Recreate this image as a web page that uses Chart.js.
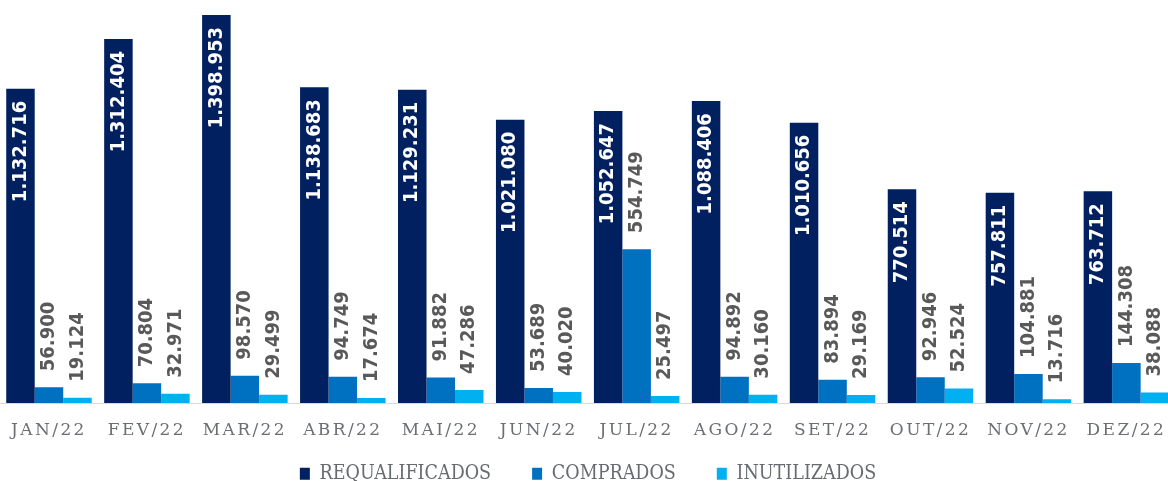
<!DOCTYPE html>
<html>
<head>
<meta charset="utf-8">
<script src="https://cdn.jsdelivr.net/npm/chart.js@4.4.1/dist/chart.umd.min.js"></script>
<style>
  html, body { margin: 0; padding: 0; background: #fff; overflow: hidden; }
  #wrap { width: 1176px; height: 481px; position: relative; }
</style>
</head>
<body>
<div id="wrap"><canvas id="chart"></canvas></div>
<script>
const MONTHS = ["JAN/22", "FEV/22", "MAR/22", "ABR/22", "MAI/22", "JUN/22", "JUL/22", "AGO/22", "SET/22", "OUT/22", "NOV/22", "DEZ/22"];
const REQUALIFICADOS = [1132716, 1312404, 1398953, 1138683, 1129231, 1021080, 1052647, 1088406, 1010656, 770514, 757811, 763712];
const COMPRADOS = [56900, 70804, 98570, 94749, 91882, 53689, 554749, 94892, 83894, 92946, 104881, 144308];
const INUTILIZADOS = [19124, 32971, 29499, 17674, 47286, 40020, 25497, 30160, 29169, 52524, 13716, 38088];

const COLORS = ["#002060", "#0070c0", "#00b0f0"];

function fmt(v) {
  return String(v).replace(/\B(?=(\d{3})+(?!\d))/g, ".");
}

// rotated value labels: white inside the dark bars, gray above the others
const barLabels = {
  id: "barLabels",
  afterLayout(chart) {
    // grow the legend box upwards, its padding also sets the gap between items
    chart.legend.top -= 18;
  },
  afterDatasetsDraw(chart) {
    const ctx = chart.ctx;
    ctx.save();
    ctx.letterSpacing = "0px";
    ctx.font = "bold 20px 'DejaVu Sans Condensed', 'DejaVu Sans'";
    ctx.textBaseline = "middle";
    chart.data.datasets.forEach((ds, i) => {
      const meta = chart.getDatasetMeta(i);
      meta.data.forEach((bar, j) => {
        ctx.save();
        if (i === 0) {
          ctx.translate(bar.x, bar.y + 12);
          ctx.rotate(-Math.PI / 2);
          ctx.textAlign = "right";
          ctx.fillStyle = "#ffffff";
        } else {
          ctx.translate(bar.x, bar.y - 16);
          ctx.rotate(-Math.PI / 2);
          ctx.textAlign = "left";
          ctx.fillStyle = "#595959";
        }
        ctx.fillText(fmt(ds.data[j]), 0, 0);
        ctx.restore();
      });
    });
    ctx.restore();
    // month ticks are drawn after this (ticks.z = 1) with spaced letters
    ctx.letterSpacing = "2.4px";
  },
  afterDraw(chart) {
    chart.ctx.letterSpacing = "0px";
  }
};

new Chart(document.getElementById("chart"), {
  type: "bar",
  data: {
    labels: MONTHS,
    datasets: [
      { label: "REQUALIFICADOS", data: REQUALIFICADOS, backgroundColor: COLORS[0] },
      { label: "COMPRADOS", data: COMPRADOS, backgroundColor: COLORS[1] },
      { label: "INUTILIZADOS", data: INUTILIZADOS, backgroundColor: COLORS[2] }
    ]
  },
  options: {
    responsive: true,
    maintainAspectRatio: false,
    animation: false,
    datasets: {
      bar: { categoryPercentage: 0.873, barPercentage: 1, borderWidth: 0 }
    },
    layout: { padding: 0 },
    plugins: {
      tooltip: { enabled: false },
      legend: {
        position: "bottom",
        maxHeight: 40,
        labels: {
          boxWidth: 10,
          boxHeight: 12,
          padding: 41,
          color: "#666b70",
          font: { family: "'DejaVu Serif Condensed', 'Liberation Serif'", size: 19.5 }
        }
      }
    },
    scales: {
      x: {
        afterFit(scale) { scale.height = 38; },
        grid: { display: false, drawTicks: false },
        border: { display: true, color: "#d9d9d9", width: 1 },
        ticks: {
          z: 1,
          padding: 17,
          autoSkip: false,
          maxRotation: 0,
          color: "#6b6e72",
          font: { family: "'DejaVu Serif'", size: 17 }
        }
      },
      y: { display: false, min: 0, max: 1453000 }
    }
  },
  plugins: [barLabels]
});
</script>
</body>
</html>
